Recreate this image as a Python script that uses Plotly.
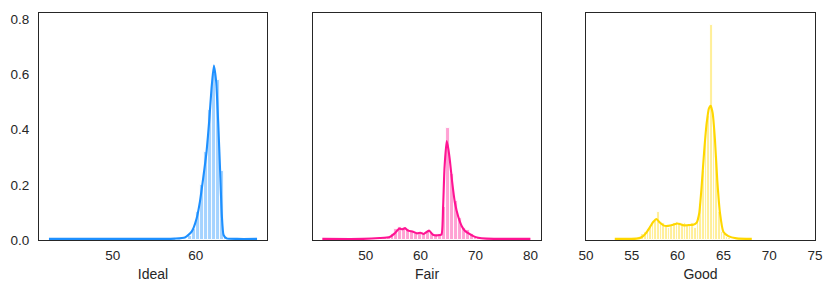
import plotly.graph_objects as go

# ---------------- data ----------------
PANELS = ["Ideal", "Fair", "Good"]
COLORS = {"Ideal": "#1E90FF", "Fair": "#FF1493", "Good": "#FFD700"}
BAR_FILL = {"Ideal": "#A5D3FF", "Fair": "#FFA1D4", "Good": "#FFEF99"}

# histogram bins: first bin start, width, and densities from that first bin onwards
ideal_bin_start = 58.642
ideal_bin_width = 0.474
ideal_hist = [0.005, 0.015, 0.04, 0.10, 0.20, 0.32, 0.47, 0.60, 0.58, 0.25, 0.01, 0.003]

fair_bin_start = 52.36
fair_bin_width = 0.72
fair_hist = [0.004, 0.006, 0.010, 0.020, 0.040, 0.047, 0.045, 0.040, 0.033, 0.028,
             0.027, 0.024, 0.030, 0.026, 0.018, 0.020, 0.120, 0.405, 0.240, 0.140,
             0.080, 0.045, 0.035, 0.020, 0.012, 0.008, 0.005, 0.004]

good_bin_start = 54.3
good_bin_width = 0.2886
good_hist = [0.003, 0.003, 0.003, 0.005, 0.008, 0.010, 0.020, 0.030, 0.040, 0.050,
             0.060, 0.070, 0.100, 0.065, 0.060, 0.055, 0.045, 0.050, 0.060, 0.065,
             0.060, 0.055, 0.060, 0.055, 0.050, 0.060, 0.045, 0.080, 0.130, 0.250,
             0.380, 0.450, 0.780, 0.420, 0.300, 0.100, 0.030, 0.020, 0.012, 0.008,
             0.005, 0.003, 0.002, 0.002]

# KDE curves
ideal_kde_x = [42.3, 50.0, 56.0, 57.5, 58.7, 59.51, 60.11, 60.51, 60.90, 61.31, 61.62,
               61.91, 62.19, 62.47, 62.71, 62.95, 63.15, 63.36, 63.72, 65.0, 67.4]
ideal_kde_y = [0.004, 0.004, 0.004, 0.005, 0.009, 0.030, 0.078, 0.139, 0.223, 0.320, 0.428,
               0.549, 0.632, 0.573, 0.428, 0.247, 0.090, 0.018, 0.006, 0.004, 0.004]

fair_kde_x = [42.1, 49.5, 52.55, 54.37, 55.28, 56.07, 56.68, 57.16, 57.71, 58.62, 59.35,
              59.96, 60.56, 61.53, 62.26, 63.17, 63.8, 64.1, 64.35, 64.75, 65.05, 65.35,
              65.75, 66.25, 66.85, 67.5, 68.1, 68.9, 69.6, 70.5, 72.0, 80.0]
fair_kde_y = [0.004, 0.004, 0.007, 0.011, 0.024, 0.041, 0.039, 0.043, 0.034, 0.030, 0.024,
              0.026, 0.022, 0.034, 0.019, 0.017, 0.020, 0.120, 0.260, 0.358, 0.330, 0.285,
              0.210, 0.135, 0.085, 0.050, 0.033, 0.022, 0.014, 0.008, 0.005, 0.004]

good_kde_x = [53.14, 55.51, 56.06, 56.53, 56.97, 57.33, 57.70, 58.06, 58.50, 58.97, 59.52,
              59.96, 60.25, 60.69, 61.16, 61.71, 62.08, 62.36, 62.62, 62.91, 63.17, 63.42,
              63.61, 63.83, 64.08, 64.33, 64.63, 64.99, 65.54, 66.45, 68.1]
good_kde_y = [0.004, 0.005, 0.010, 0.024, 0.046, 0.065, 0.076, 0.063, 0.052, 0.051, 0.055,
              0.060, 0.058, 0.053, 0.054, 0.055, 0.063, 0.097, 0.193, 0.326, 0.422, 0.477,
              0.486, 0.459, 0.362, 0.217, 0.097, 0.030, 0.014, 0.006, 0.004]

X_RANGES = {"Ideal": [41.1, 68.6], "Fair": [40.4, 81.93], "Good": [50, 75]}
X_TICKS = {"Ideal": [50, 60], "Fair": [50, 60, 70, 80], "Good": [50, 55, 60, 65, 70, 75]}
Y_RANGE = [0, 0.822]
Y_TICKS = [0.0, 0.2, 0.4, 0.6, 0.8]

HIST = {
    "Ideal": (ideal_bin_start, ideal_bin_width, ideal_hist),
    "Fair": (fair_bin_start, fair_bin_width, fair_hist),
    "Good": (good_bin_start, good_bin_width, good_hist),
}
KDE = {
    "Ideal": (ideal_kde_x, ideal_kde_y),
    "Fair": (fair_kde_x, fair_kde_y),
    "Good": (good_kde_x, good_kde_y),
}

# ---------------- figure ----------------
W, H = 831, 293
x_px = [(39, 267), (313, 541), (586, 815)]
y_px = (13, 240)

INK = "#262626"
FONT = "Liberation Sans, Arial, sans-serif"

fig = go.Figure()
layout = dict(
    width=W, height=H,
    margin=dict(l=0, r=0, t=0, b=0, autoexpand=False),
    paper_bgcolor="white", plot_bgcolor="white",
    showlegend=False,
    font=dict(family=FONT, color=INK, size=13),
    bargap=0,
)

for i, name in enumerate(PANELS):
    suffix = "" if i == 0 else str(i + 1)
    xa, ya = "x" + suffix, "y" + suffix
    start, width, dens = HIST[name]
    centers = [start + (j + 0.5) * width for j in range(len(dens))]
    fig.add_trace(go.Bar(
        x=centers, y=dens, width=[width] * len(dens),
        marker=dict(color=BAR_FILL[name], line=dict(color="white", width=0.9)),
        xaxis=xa, yaxis=ya, hoverinfo="skip",
    ))
    kx, ky = KDE[name]
    fig.add_trace(go.Scatter(
        x=kx, y=ky, mode="lines",
        line=dict(color=COLORS[name], width=2.1, shape="spline", smoothing=0.5),
        xaxis=xa, yaxis=ya, hoverinfo="skip",
    ))
    l, r = x_px[i]
    layout["xaxis" + suffix] = dict(
        domain=[l / W, r / W], anchor=ya, automargin=False,
        range=X_RANGES[name], tickvals=X_TICKS[name],
        showgrid=False, zeroline=False,
        showline=True, mirror=True, linecolor=INK, linewidth=1.2,
        ticks="outside", ticklen=3, tickcolor="rgba(0,0,0,0)",
        tickfont=dict(size=13.5, color=INK),
        title=dict(text=name, font=dict(size=14, color=INK), standoff=6),
    )
    layout["yaxis" + suffix] = dict(
        domain=[1 - y_px[1] / H, 1 - y_px[0] / H], anchor=xa, automargin=False,
        range=Y_RANGE, tickvals=Y_TICKS, tickformat=".1f",
        showticklabels=(i == 0),
        showgrid=False, zeroline=False,
        showline=True, mirror=True, linecolor=INK, linewidth=1.2,
        ticks="outside", ticklen=6, tickcolor="rgba(0,0,0,0)",
        tickfont=dict(size=13.5, color=INK),
    )

fig.update_layout(**layout)
fig.write_html("out.html")
